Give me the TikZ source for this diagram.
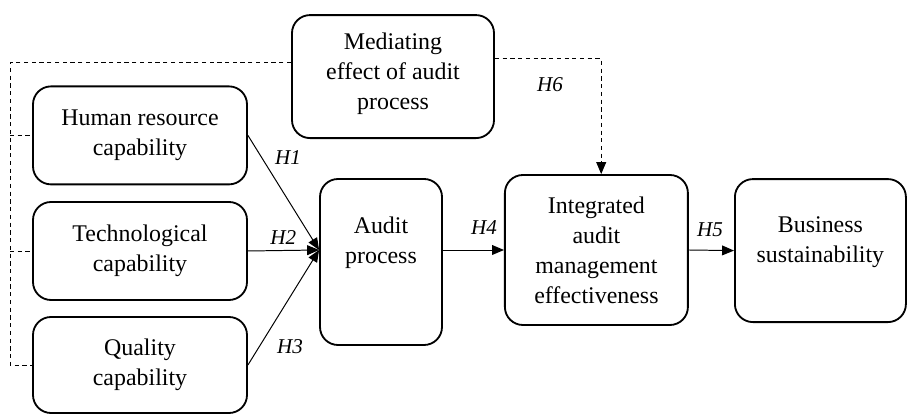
\documentclass[tikz,border=0pt]{standalone}
\usepackage{fontspec}
\setmainfont{Liberation Serif}
\usetikzlibrary{arrows.meta, positioning, calc}

\begin{document}
\begin{tikzpicture}[
    every node/.style={font=\fontsize{17}{21.3}\selectfont},
    box/.style={rectangle, rounded corners=0.45cm, draw=black, line width=1.3pt,
                align=center, inner sep=2pt},
    hyp/.style={font=\fontsize{15}{18}\selectfont\itshape},
    arr/.style={-{Triangle[length=8.5pt, width=7pt]}, line width=0.7pt},
    dsh/.style={dash pattern=on 3pt off 2.5pt, line width=0.7pt},
]
\useasboundingbox (0,0) rectangle (22.7,10.375);

% ================================================================ boxes
\node[box, minimum width=5.05cm, minimum height=3.075cm, text depth=0.25cm] (med) at (9.825, 8.46)
    {Mediating\\ effect of audit\\ process};

\node[box, minimum width=5.35cm, minimum height=2.45cm] (hr)   at (3.50, 6.99) {Human resource\\ capability};
\node[box, minimum width=5.35cm, minimum height=2.45cm] (tech) at (3.50, 4.10) {Technological\\ capability};
\node[box, minimum width=5.35cm, minimum height=2.40cm] (qual) at (3.50, 1.25) {Quality\\ capability};

\node[box, minimum width=3.05cm, minimum height=4.15cm, text depth=1.1cm] (audit) at (9.525, 3.825)
    {Audit\\ process};
\node[box, minimum width=4.575cm, minimum height=3.75cm] (integ) at (14.91, 4.125)
    {Integrated\\ audit\\ management\\ effectiveness};
\node[box, minimum width=4.275cm, minimum height=3.575cm, text depth=0.55cm] (bus) at (20.51, 4.11)
    {Business\\ sustainability};

% ================================================================ paths
\coordinate (conv) at ([yshift=0.3cm]audit.west);
\draw[arr] (hr.east) -- (conv);
\draw[arr] (tech.east) -- (conv);
\draw[arr] (qual.east) -- (conv);
\draw[arr] (audit.east |- integ.west) -- (integ.west);
\draw[arr] (integ.east) -- (bus.west);

\coordinate (rail) at (0.25, 0);
\draw[dsh] ([yshift=0.34cm]med.west) -| (qual.west -| rail) -- (qual.west);
\draw[dsh] (hr.west -| rail) -- (hr.west);
\draw[dsh] (tech.west -| rail) -- (tech.west);
\draw[dsh, arr] ([yshift=0.44cm]med.east) -| ([xshift=0.12cm]integ.north);

% ================================================================ labels
\node[hyp] (h1) at (7.20, 6.43) {H1};
\node[hyp] (h2) at (7.08, 4.43) {H2};
\node[hyp] (h3) at (7.25, 1.70) {H3};
\node[hyp] (h4) at (12.10, 4.68) {H4};
\node[hyp] (h5) at (17.75, 4.63) {H5};
\node[hyp] (h6) at (13.75, 8.25) {H6};

\end{tikzpicture}
\end{document}
